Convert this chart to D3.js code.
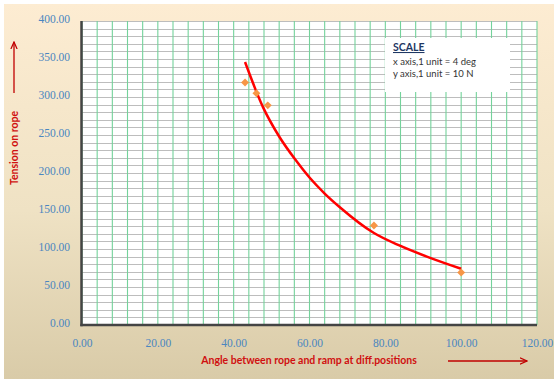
<!DOCTYPE html>
<html><head><meta charset="utf-8">
<script src="https://cdn.jsdelivr.net/npm/d3@7"></script>
<style>
html,body{margin:0;padding:0;background:#fff;}
svg{display:block;}
</style></head>
<body>
<svg id="chart" width="554" height="379"></svg>
<script>
// ---- data ----
const angleDeg = [43, 46, 49, 77, 100];
const tension = [319, 305, 289, 131, 69];
const trendAngle = [43, 47.7, 52, 56.5, 60, 64, 68, 77, 84, 92, 100];
const trendTension = [346, 287, 248, 216, 194, 173, 155, 121, 104, 88, 74];
const xTicks = [0, 20, 40, 60, 80, 100, 120];
const yTicks = [0, 50, 100, 150, 200, 250, 300, 350, 400];
const xGrid = d3.range(0, 121, 4);
const yGrid = d3.range(0, 401, 10);
const scaleLines = ["x axis,1 unit = 4 deg", "y axis,1 unit = 10  N"];

const svg = d3.select("#chart");
const defs = svg.append("defs");
const grad = defs.append("linearGradient").attr("id","bg").attr("x1",0).attr("y1",0).attr("x2",0).attr("y2",1);
grad.append("stop").attr("offset","0%").attr("stop-color","#fdecd2");
grad.append("stop").attr("offset","55%").attr("stop-color","#efe2c4");
grad.append("stop").attr("offset","100%").attr("stop-color","#d9cba8");

svg.append("rect").attr("x",4).attr("y",4).attr("width",550).attr("height",375).attr("fill","url(#bg)");

const x = d3.scaleLinear().domain([0,120]).range([82,537]);
const y = d3.scaleLinear().domain([0,400]).range([325,21]);

// plot area
svg.append("rect").attr("x",x(0)).attr("y",y(400)).attr("width",x(120)-x(0)).attr("height",y(0)-y(400)).attr("fill","#fff");

// horizontal grid
svg.append("g").selectAll("line").data(yGrid).join("line")
  .attr("x1",x(0)).attr("x2",x(120))
  .attr("y1",d=>Math.round(y(d))+0.5).attr("y2",d=>Math.round(y(d))+0.5)
  .attr("stroke","#bdbdbd").attr("stroke-width",1);
// vertical grid
svg.append("g").selectAll("line").data(xGrid).join("line")
  .attr("y1",y(400)).attr("y2",y(0))
  .attr("x1",d=>x(d)).attr("x2",d=>x(d))
  .attr("stroke","#74d29b").attr("stroke-width",1.1);

// scale box
const bx=385, by=38;
svg.append("rect").attr("x",bx).attr("y",by).attr("width",125).attr("height",54).attr("fill","#fff");
svg.append("text").attr("x",393).attr("y",51).text("SCALE")
  .attr("font-family","Lato, 'Open Sans', sans-serif").attr("font-weight","bold").attr("font-size",10.5)
  .attr("fill","#1f3864").attr("text-decoration","underline");
svg.append("g").selectAll("text").data(scaleLines).join("text")
  .attr("x",393).attr("y",(d,i)=>65+i*12).text(d=>d)
  .attr("font-family","Lato, 'Open Sans', sans-serif").attr("font-size",9.5).attr("fill","#333");

// axis lines
svg.append("line").attr("x1",x(0)-0.5).attr("x2",x(0)-0.5).attr("y1",y(400)).attr("y2",y(0)+1.2)
  .attr("stroke","#444").attr("stroke-width",2.5);
svg.append("line").attr("x1",x(0)-1.7).attr("x2",x(120)).attr("y1",y(0)).attr("y2",y(0))
  .attr("stroke","#444").attr("stroke-width",2.5);

// axes tick labels
const tickFont = "'Liberation Serif', 'DejaVu Serif', serif";
const xAxis = svg.append("g").attr("transform",`translate(0,${y(0)+18})`)
  .call(d3.axisBottom(x).tickValues(xTicks).tickSize(0).tickFormat(d3.format(".2f")));
xAxis.select(".domain").remove();
xAxis.selectAll("text").attr("font-family",tickFont).attr("font-size",11.5).attr("fill","#4a86c0").attr("dy","0.32em").attr("y",0);

const yAxis = svg.append("g").attr("transform",`translate(70,-2)`)
  .call(d3.axisLeft(y).tickValues(yTicks).tickSize(0).tickFormat(d3.format(".2f")));
yAxis.select(".domain").remove();
yAxis.selectAll("text").attr("font-family",tickFont).attr("font-size",11.5).attr("fill","#4a86c0").attr("x",0);

// trendline
const line = d3.line().x((d,i)=>x(trendAngle[i])).y((d,i)=>y(trendTension[i])).curve(d3.curveMonotoneX);
svg.append("path").datum(trendAngle).attr("d",line).attr("fill","none").attr("stroke","#ff0000").attr("stroke-width",2.5);

// markers
svg.append("g").selectAll("path").data(angleDeg).join("path")
  .attr("d",d3.symbol().type(d3.symbolDiamond2).size(40))
  .attr("transform",(d,i)=>`translate(${x(d)},${y(tension[i])})`)
  .attr("fill","#f79646");

// axis titles
svg.append("text").attr("x",309).attr("y",364).attr("text-anchor","middle")
  .text("Angle between rope and ramp at diff.positions")
  .attr("font-family","Lato, 'Open Sans', sans-serif").attr("font-weight","bold").attr("font-size",10.5).attr("fill","#d01010");
svg.append("text").attr("transform","translate(18,148) rotate(-90)").attr("text-anchor","middle")
  .text("Tension on rope")
  .attr("font-family","Lato, 'Open Sans', sans-serif").attr("font-weight","bold").attr("font-size",10.5).attr("fill","#d01010");

// arrows
defs.append("marker").attr("id","ah").attr("viewBox","0 0 10 10").attr("refX",9).attr("refY",5)
  .attr("markerWidth",6).attr("markerHeight",6).attr("orient","auto")
  .append("path").attr("d","M0,1 L9,5 L0,9").attr("fill","none").attr("stroke","#c00000").attr("stroke-width",1.6);
svg.append("line").attr("x1",448).attr("x2",527).attr("y1",361).attr("y2",361)
  .attr("stroke","#c00000").attr("stroke-width",1.3).attr("marker-end","url(#ah)");
svg.append("line").attr("x1",14).attr("x2",14).attr("y1",93).attr("y2",42)
  .attr("stroke","#c00000").attr("stroke-width",1.3).attr("marker-end","url(#ah)");
</script>
</body></html>
